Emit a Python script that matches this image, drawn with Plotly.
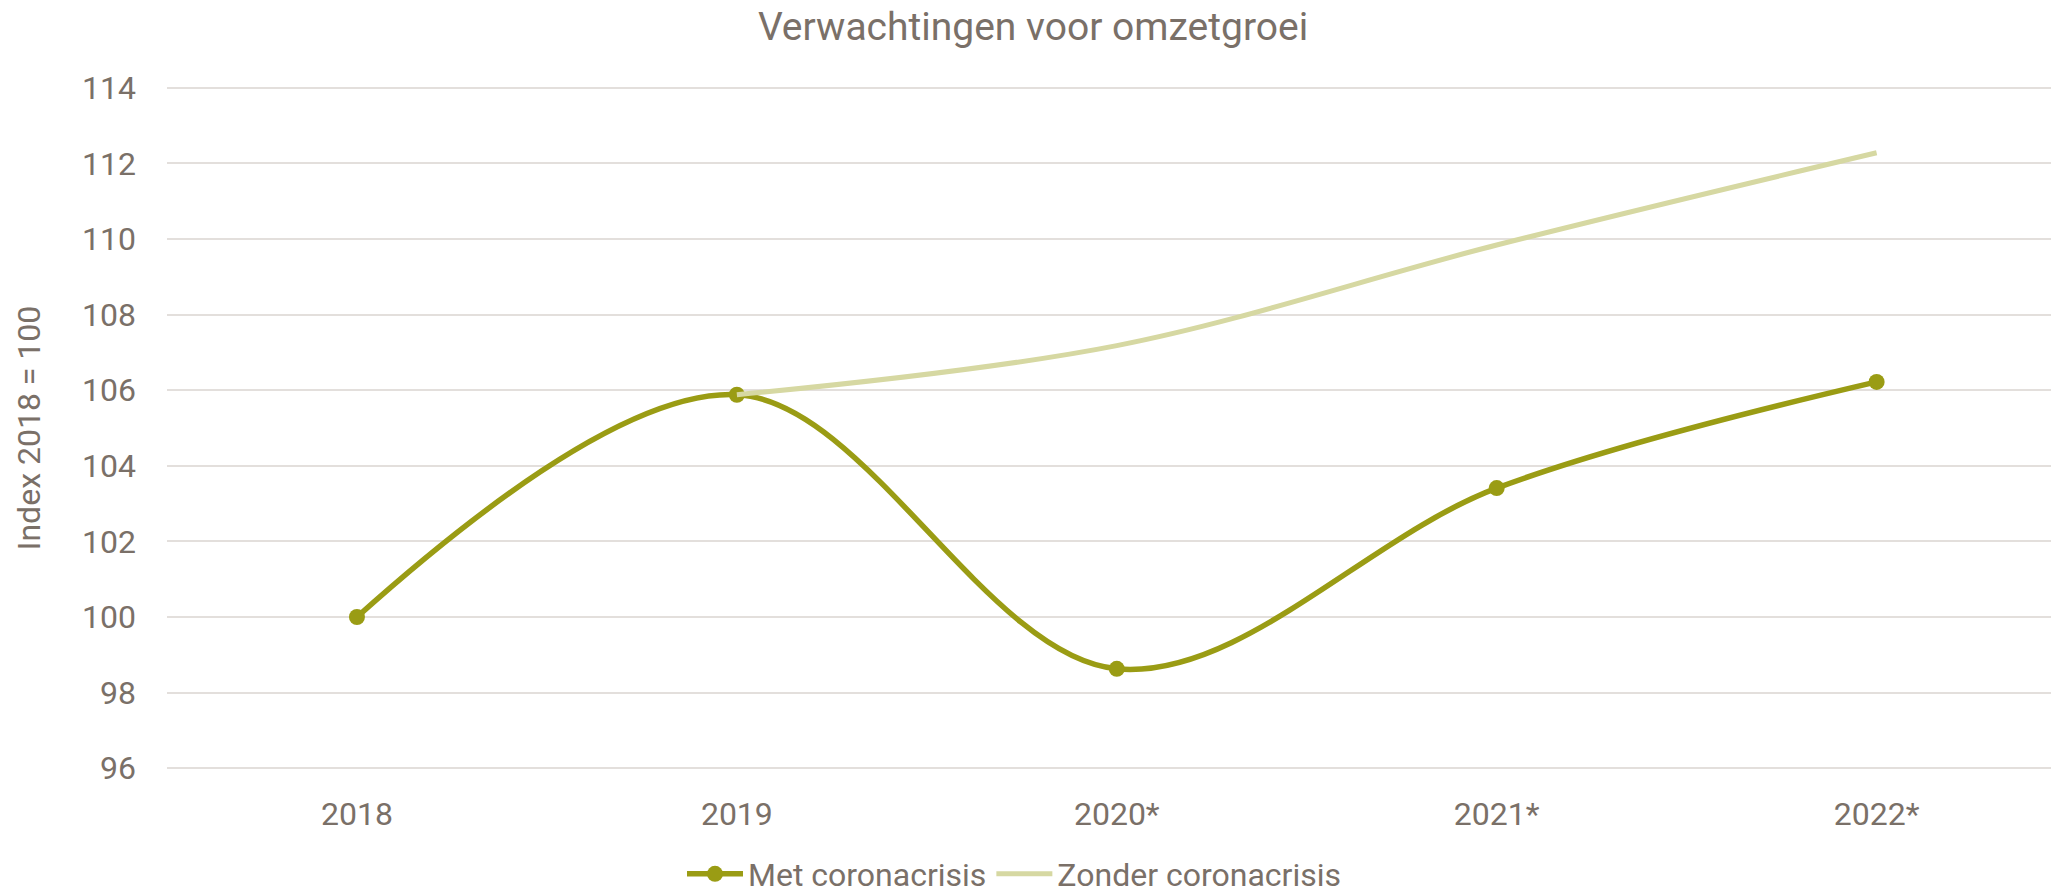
import plotly.graph_objects as go

categories = ["2018", "2019", "2020*", "2021*", "2022*"]
met_corona = [100.0, 105.88, 98.63, 103.41, 106.22]
zonder_corona = [None, 105.88, 107.18, 109.84, 112.28]
y_ticks = [96, 98, 100, 102, 104, 106, 108, 110, 112, 114]

TEXT = "#7a7068"
MET = "#9a9c14"
ZONDER = "#d6d8a2"
GRID = "#e3dfdc"
FONT = "Roboto"

fig = go.Figure()
fig.add_trace(go.Scatter(
    x=categories, y=met_corona, name="Met coronacrisis",
    mode="lines+markers",
    line=dict(color=MET, width=5.5, shape="spline", smoothing=1.0),
    marker=dict(color=MET, size=16),
))
fig.add_trace(go.Scatter(
    x=categories, y=zonder_corona, name="Zonder coronacrisis",
    mode="lines",
    line=dict(color=ZONDER, width=5, shape="spline", smoothing=1.0),
    connectgaps=False,
))

fig.update_layout(
    width=2051, height=894,
    paper_bgcolor="white", plot_bgcolor="white",
    margin=dict(l=167, r=0, t=84, b=122),
    font=dict(family=FONT, color=TEXT, size=32),
    title=dict(text="Verwachtingen voor omzetgroei", x=1033 / 2051, xref="container",
               xanchor="center", y=1 - 26 / 894, yanchor="middle",
               font=dict(size=39, color=TEXT, family=FONT)),
    showlegend=True,
    legend=dict(orientation="h", x=682 / 2051, xanchor="left",
                xref="container", yref="container",
                y=1 - 874 / 894, yanchor="middle",
                itemwidth=56,
                font=dict(size=32, color=TEXT, family=FONT),
                bgcolor="rgba(0,0,0,0)"),
)
fig.update_xaxes(
    type="category", range=[-0.5, 4.459],
    showgrid=False, zeroline=False, showline=False, ticks="",
    tickfont=dict(size=32, color=TEXT, family=FONT),
    ticklabelstandoff=20,
)
fig.update_yaxes(
    range=[95.9, 114.1], tickvals=y_ticks,
    showgrid=True, gridcolor=GRID, gridwidth=1.6,
    zeroline=False, showline=False, ticks="",
    tickfont=dict(size=32, color=TEXT, family=FONT),
    ticklabelstandoff=30,
    title=dict(text="Index 2018 = 100", standoff=31,
               font=dict(size=32, color=TEXT, family=FONT)),
)

fig.write_html("out.html", config={"displayModeBar": False},
               post_script="document.body.style.margin='0';")
